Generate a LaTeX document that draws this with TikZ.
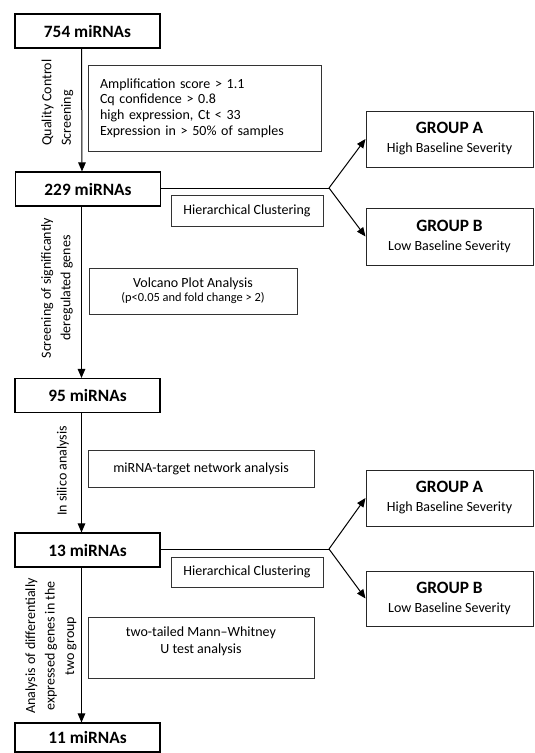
\documentclass[tikz,border=0pt]{standalone}
\usepackage{fontspec}
\setmainfont{Carlito}
\usetikzlibrary{arrows.meta}
\begin{document}
\begin{tikzpicture}[x=1pt,y=-1pt,
  every node/.style={font=\fontsize{14}{16.5}\selectfont, inner sep=0pt},
  mainbox/.style={draw=black, line width=1.1pt, minimum width=145pt, minimum height=34pt,
    font=\fontsize{17.3}{19}\selectfont\bfseries},
  infobox/.style={draw=black!80, line width=1pt},
  grpbox/.style={draw=black!85, line width=1pt, minimum width=167pt, minimum height=56pt, align=center,
    font=\fontsize{14}{19}\selectfont},
  sidelabel/.style={rotate=90, font=\fontsize{14}{19.5}\selectfont},
  conn/.style={line width=1pt, draw=black},
  arr/.style={conn, -{Triangle[length=9pt,width=7.5pt]}}
]
\useasboundingbox (0,0) rectangle (535,753);

% main column
\node[mainbox] (n754) at (87.5,31) {754 miRNAs};
\node[mainbox] (n229) at (88,189) {229 miRNAs};
\node[mainbox] (n95) at (87.5,395.5) {95 miRNAs};
\node[mainbox] (n13) at (87.5,550) {13 miRNAs};
\node[mainbox, minimum height=29pt] (n11) at (87.5,737.5) {11 miRNAs};

% info boxes
\node[infobox, minimum width=233pt, minimum height=86pt, text width=209pt, inner xsep=12pt, align=left,
  font=\fontsize{14}{15.8}\selectfont] (crit) at (204.5,108)
  {Amplification score > 1.1\\Cq confidence > 0.8\\high expression, Ct < 33\\Expression in > 50\% of samples};
\node[infobox, minimum width=152pt, minimum height=31pt] (clus1) at (247,210.5) {Hierarchical Clustering};
\node[infobox, minimum width=208pt, minimum height=46pt, align=center, font=\fontsize{14}{15}\selectfont] (volc) at (193,291)
  {Volcano Plot Analysis\\[-1pt]{\fontsize{12.4}{14}\selectfont (p<0.05 and fold change > 2)}};
\node[infobox, minimum width=226pt, minimum height=37pt] (targ) at (201,468.5) {miRNA-target network analysis};
\node[infobox, minimum width=152pt, minimum height=30pt] (clus2) at (247,572) {Hierarchical Clustering};
\node[infobox, minimum width=226pt, minimum height=61pt] (mw) at (201,647.5) {};
\node[align=center, font=\fontsize{14}{17}\selectfont] (mwt) at (201,641.5) {two-tailed Mann--Whitney\\U test analysis};

% group boxes
\node[grpbox] (ga1) at (449.5,139) {{\fontsize{17.3}{19}\selectfont\bfseries GROUP A}\\High Baseline Severity};
\node[grpbox, minimum height=57pt] (gb1) at (449.5,236.5) {{\fontsize{17.3}{19}\selectfont\bfseries GROUP B}\\Low Baseline Severity};
\node[grpbox] (ga2) at (449.5,498) {{\fontsize{17.3}{19}\selectfont\bfseries GROUP A}\\High Baseline Severity};
\node[grpbox, minimum height=55pt] (gb2) at (449.5,598.5) {{\fontsize{17.3}{19}\selectfont\bfseries GROUP B}\\Low Baseline Severity};

% side labels
\node[sidelabel, align=left] (l1) at (57.5,102.5) {Quality Control\\Screening};
\node[sidelabel, align=center] (l2) at (57,288) {Screening of significantly\\deregulated genes};
\node[sidelabel] (l3) at (63,471) {In silico analysis};
\node[sidelabel, align=center] (l4) at (51,646) {Analysis of differentially\\expressed genes in the\\two group};

% main arrows
\draw[arr] ([xshift=-6pt]n754.south) -- ([xshift=-6pt]n229.north);
\draw[arr] ([xshift=-6.5pt]n229.south) -- ([xshift=-6pt]n95.north);
\draw[arr] ([xshift=-6pt]n95.south) -- ([xshift=-6pt]n13.north);
\draw[arr] ([xshift=-6pt]n13.south) -- ([xshift=-6pt]n11.north);

% forks
\coordinate (f1) at (329,188);
\coordinate (f2) at (329,549);
\draw[conn] (n229.east |- f1) -- (f1);
\draw[arr] (f1) -- (ga1.west);
\draw[arr] (f1) -- (gb1.west);
\draw[conn] (n13.east |- f2) -- (f2);
\draw[arr] (f2) -- (ga2.west);
\draw[arr] (f2) -- (gb2.west);
\end{tikzpicture}
\end{document}
